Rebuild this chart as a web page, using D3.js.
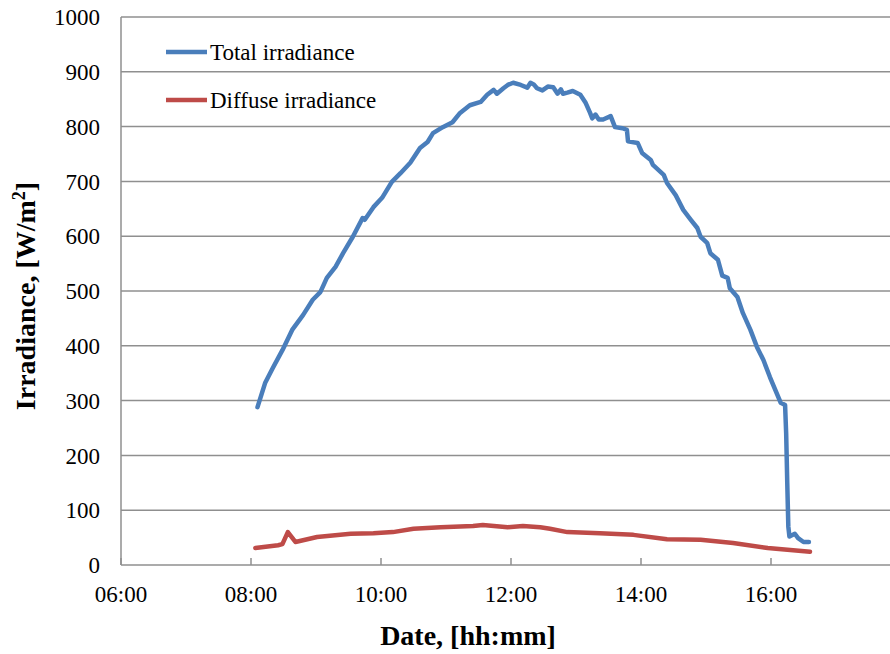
<!DOCTYPE html>
<html>
<head>
<meta charset="utf-8">
<script src="https://cdn.jsdelivr.net/npm/d3@7"></script>
<style>
  body { margin: 0; background: #fff; }
  svg { display: block; }
  svg text { font-family: "Liberation Serif", "Times New Roman", serif; }
</style>
</head>
<body>
<svg id="chart"></svg>
<script>
const width = 890, height = 654;

// Total irradiance (W/m2)
const totalTimes = ["08:06","08:13","08:20","08:29","08:38","08:48","08:57","09:04","09:10","09:18","09:25","09:34","09:43","09:45","09:53","10:01","10:10","10:18","10:27","10:36","10:43","10:48","10:57","11:06","11:13","11:22","11:32","11:38","11:44","11:47","11:53","11:57","12:02","12:09","12:15","12:18","12:21","12:24","12:29","12:34","12:39","12:43","12:46","12:48","12:52","12:57","13:04","13:09","13:13","13:15","13:18","13:21","13:25","13:32","13:36","13:43","13:47","13:48","13:57","14:01","14:09","14:11","14:21","14:24","14:32","14:39","14:46","14:52","14:55","15:01","15:04","15:11","15:15","15:20","15:22","15:29","15:34","15:41","15:47","15:53","15:59","16:09","16:13","16:14","16:15","16:16","16:17","16:22","16:25","16:30","16:35"];
const totalValues = [288,332,359,392,429,456,484,498,524,544,569,599,633,630,653,670,699,715,734,761,772,788,799,808,825,839,845,858,867,860,870,876,880,876,871,880,877,870,866,873,872,860,868,860,862,865,858,843,825,815,822,813,813,819,799,797,794,773,770,752,739,730,712,697,675,648,630,615,599,588,569,557,528,524,505,489,460,429,398,374,343,296,292,240,150,70,52,57,49,42,42];

// Diffuse irradiance (W/m2)
const diffuseTimes = ["08:04","08:25","08:29","08:34","08:41","09:01","09:32","09:53","10:11","10:30","10:55","11:25","11:34","11:57","12:11","12:27","12:36","12:52","13:22","13:53","14:24","14:55","15:25","15:57","16:36"];
const diffuseValues = [31,36,38,60,42,51,57,58,60,66,69,71,73,69,71,69,66,60,58,55,47,46,40,31,24];

const xTickLabels = ["06:00","08:00","10:00","12:00","14:00","16:00"];
const yTicks = [0,100,200,300,400,500,600,700,800,900,1000];

const seriesNames = ["Total irradiance", "Diffuse irradiance"];
const seriesColors = ["#4a7ebb", "#be4b48"];

const parseTime = d3.timeParse("%H:%M");

const margin = {left: 121, top: 17, bottom: 89};
const plotBottom = height - margin.bottom; // 565
const serif = "'Liberation Serif', 'Times New Roman', serif";

const svg = d3.select("#chart")
    .attr("width", width)
    .attr("height", height);

const x = d3.scaleTime()
    .domain([parseTime("06:00"), parseTime("18:00")])
    .range([margin.left, 901]);

const y = d3.scaleLinear()
    .domain([0, 1000])
    .range([plotBottom, margin.top]);

// horizontal gridlines
svg.append("g")
  .selectAll("line")
  .data(yTicks.filter(d => d > 0))
  .join("line")
    .attr("x1", margin.left)
    .attr("x2", width)
    .attr("y1", d => y(d))
    .attr("y2", d => y(d))
    .attr("stroke", "#8f8f8f")
    .attr("stroke-width", 1.5);

// y axis labels
svg.append("g")
  .selectAll("text")
  .data(yTicks)
  .join("text")
    .attr("x", 100)
    .attr("y", d => y(d))
    .attr("dy", "0.36em")
    .attr("text-anchor", "end")
    .attr("font-family", serif)
    .attr("font-size", 23)
    .attr("fill", "#000")
    .text(d => d);

// axis lines
svg.append("line")
    .attr("x1", margin.left).attr("x2", margin.left)
    .attr("y1", margin.top).attr("y2", plotBottom)
    .attr("stroke", "#8f8f8f").attr("stroke-width", 1.5);
svg.append("line")
    .attr("x1", margin.left).attr("x2", width)
    .attr("y1", plotBottom).attr("y2", plotBottom)
    .attr("stroke", "#8f8f8f").attr("stroke-width", 1.5);

// x ticks (inside) and labels
const xg = svg.append("g");
xg.selectAll("line")
  .data(xTickLabels)
  .join("line")
    .attr("x1", d => x(parseTime(d)))
    .attr("x2", d => x(parseTime(d)))
    .attr("y1", plotBottom)
    .attr("y2", plotBottom - 7)
    .attr("stroke", "#8f8f8f")
    .attr("stroke-width", 1.5);
xg.selectAll("text")
  .data(xTickLabels)
  .join("text")
    .attr("x", d => x(parseTime(d)))
    .attr("y", 602)
    .attr("text-anchor", "middle")
    .attr("font-family", serif)
    .attr("font-size", 23)
    .attr("fill", "#000")
    .text(d => d);

// lines
const line = d3.line()
    .x(d => x(d.t))
    .y(d => y(d.v));

const totalData = totalTimes.map((t, i) => ({t: parseTime(t), v: totalValues[i]}));
const diffuseData = diffuseTimes.map((t, i) => ({t: parseTime(t), v: diffuseValues[i]}));

[totalData, diffuseData].forEach((data, i) => {
  svg.append("path")
    .datum(data)
    .attr("d", line)
    .attr("fill", "none")
    .attr("stroke", seriesColors[i])
    .attr("stroke-width", 4.5)
    .attr("stroke-linejoin", "round")
    .attr("stroke-linecap", "round");
});

// legend
const legend = svg.append("g");
seriesNames.forEach((name, i) => {
  const ly = 52 + i * 48;
  legend.append("line")
    .attr("x1", 166).attr("x2", 207)
    .attr("y1", ly).attr("y2", ly)
    .attr("stroke", seriesColors[i])
    .attr("stroke-width", 4.5);
  legend.append("text")
    .attr("x", 210)
    .attr("y", ly + 8)
    .attr("font-family", serif)
    .attr("font-size", 23)
    .attr("fill", "#000")
    .text(name);
});

// axis titles
svg.append("text")
    .attr("x", 468)
    .attr("y", 645)
    .attr("text-anchor", "middle")
    .attr("font-family", serif)
    .attr("font-size", 28)
    .attr("font-weight", "bold")
    .text("Date, [hh:mm]");

const yTitle = svg.append("text")
    .attr("transform", "translate(35,296) rotate(-90)")
    .attr("text-anchor", "middle")
    .attr("font-family", serif)
    .attr("font-size", 28)
    .attr("font-weight", "bold");
yTitle.append("tspan").text("Irradiance, [W/m");
yTitle.append("tspan").attr("font-size", 18).attr("dy", -10).text("2");
yTitle.append("tspan").attr("dy", 10).text("]");
</script>
</body>
</html>
